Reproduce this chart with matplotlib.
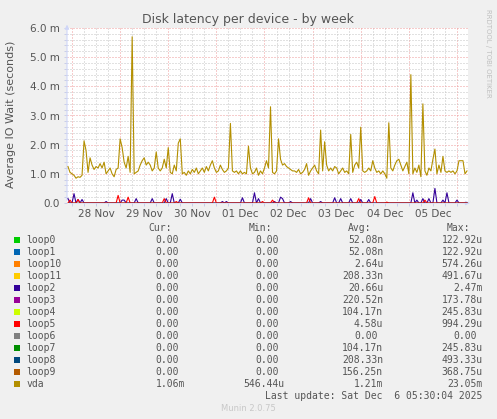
import numpy as np
import pandas as pd
import matplotlib
matplotlib.use('Agg')
import matplotlib.pyplot as plt
import matplotlib.dates as mdates
from matplotlib.ticker import FuncFormatter, MultipleLocator, NullFormatter
from matplotlib.patches import Rectangle

# devices and munin colours
names = ['loop0', 'loop1', 'loop10', 'loop11', 'loop2', 'loop3', 'loop4',
         'loop5', 'loop6', 'loop7', 'loop8', 'loop9', 'vda']
colors = ['#00CC00', '#0066B3', '#FF8000', '#FFCC00', '#330099', '#990099',
          '#CCFF00', '#FF0000', '#808080', '#008F00', '#00487D', '#B35A00', '#B38F00']

# legend table
cur_vals = ['0.00', '0.00', '0.00', '0.00', '0.00', '0.00', '0.00',
            '0.00', '0.00', '0.00', '0.00', '0.00', '1.06m']
min_vals = ['0.00', '0.00', '0.00', '0.00', '0.00', '0.00', '0.00',
            '0.00', '0.00', '0.00', '0.00', '0.00', '546.44u']
avg_vals = ['52.08n', '52.08n', '2.64u', '208.33n', '20.66u', '220.52n', '104.17n',
            '4.58u', '0.00', '104.17n', '208.33n', '156.25n', '1.21m']
max_vals = ['122.92u', '122.92u', '574.26u', '491.67u', '2.47m', '173.78u', '245.83u',
            '994.29u', '0.00', '245.83u', '493.33u', '368.75u', '23.05m']

# vda latency in ms, one value per hour
vda_ms = [
    1.25, 1.05, 1.0, 0.95, 0.85, 0.9, 0.88, 0.95, 2.13, 1.8,
    1.05, 1.55, 1.3, 1.15, 1.25, 1.2, 1.35, 1.2, 1.4, 1.0,
    1.1, 1.2, 1.0, 0.9, 1.15, 1.2, 2.2, 1.9, 1.4, 1.2,
    1.6, 1.05, 5.7, 1.0, 1.05, 1.1, 1.3, 1.45, 1.55, 1.3,
    1.4, 1.3, 1.1, 1.2, 1.75, 1.2, 1.1, 1.2, 1.5, 1.2,
    1.9, 1.05, 1.0, 1.3, 1.1, 2.05, 2.2, 1.0, 1.05, 0.95,
    1.1, 1.0, 1.15, 1.05, 1.2, 1.0, 1.1, 1.2, 1.05, 1.25,
    1.1, 1.3, 1.45, 1.2, 1.05, 1.1, 1.3, 1.15, 1.05, 1.1,
    1.2, 2.73, 1.1, 1.05, 1.1, 1.0, 1.1, 1.0, 1.05, 1.0,
    1.95, 1.2, 1.0, 1.05, 1.2, 0.95, 1.1, 1.0, 1.2, 1.45,
    1.2, 3.3, 1.05, 1.0, 1.1, 2.2, 1.5, 1.3, 1.35, 1.25,
    1.2, 1.15, 1.1, 1.1, 1.05, 1.15, 1.0, 1.05, 1.15, 1.35,
    0.95, 1.1, 1.2, 1.3, 1.1, 1.0, 2.5, 1.1, 2.1, 1.3,
    1.1, 1.2, 1.1, 1.25, 1.2, 1.0, 1.1, 1.2, 1.05, 1.1,
    1.0, 2.35, 1.05, 1.3, 1.4, 1.2, 2.6, 1.1, 1.05, 1.1,
    1.2, 1.1, 1.45, 1.2, 1.05, 1.1, 1.0, 1.1, 1.0, 0.85,
    2.75, 1.2, 1.1, 1.3, 1.45, 1.5, 1.3, 1.1, 1.25, 1.4,
    1.0, 4.4, 1.0, 1.2, 1.05, 1.3, 0.9, 3.4, 1.1, 0.95,
    1.2, 1.1, 1.5, 1.85, 1.0, 1.3, 1.05, 1.6, 1.1, 1.05,
    1.1, 1.05, 1.1, 1.0, 1.1, 1.45, 1.45, 1.45, 1.0, 1.1,
]

# loop devices are zero except short bursts (hour index, ms)
loop2_hours = [0, 3, 5, 7, 19, 27, 28, 34, 42, 49, 52, 56, 77, 79, 87, 93, 95,
               103, 106, 107, 111, 121, 126, 133, 136, 141, 146, 150, 172, 174,
               177, 180, 183, 187, 189, 194]
loop2_ms = [0.15, 0.32, 0.12, 0.12, 0.05, 0.1, 0.1, 0.15, 0.15, 0.15, 0.32, 0.13,
            0.05, 0.05, 0.18, 0.35, 0.15, 0.05, 0.2, 0.15, 0.05, 0.15, 0.05, 0.18,
            0.15, 0.15, 0.12, 0.12, 0.35, 0.1, 0.15, 0.15, 0.5, 0.1, 0.35, 0.1]
loop5_hours = [1, 5, 25, 30, 48, 54, 73, 97, 102, 120, 145, 153, 159, 178]
loop5_ms = [0.1, 0.12, 0.26, 0.2, 0.15, 0.05, 0.2, 0.05, 0.1, 0.18, 0.15, 0.22,
            0.03, 0.1]

start = pd.Timestamp('2025-11-27 21:30')
end = pd.Timestamp('2025-12-06 05:30')
times = pd.date_range('2025-11-27 22:00', periods=len(vda_ms), freq='h')

series = {n: np.zeros(len(vda_ms)) for n in names}
series['loop2'][loop2_hours] = loop2_ms
series['loop5'][loop5_hours] = loop5_ms
series['vda'] = np.array(vda_ms)

W, H = 497, 419
fig = plt.figure(figsize=(W / 100, H / 100), dpi=100, facecolor='#F0F0F0')
ax = fig.add_axes([67 / W, 1 - 203 / H, 401 / W, 175 / H])
ax.set_facecolor('white')

for n, c in zip(names, colors):
    ax.plot(times, series[n] / 1000.0, color=c, lw=0.8, zorder=3)

ax.set_xlim(start, end)
ax.set_ylim(0, 6e-3)
for s in ax.spines.values():
    s.set_visible(False)

ax.yaxis.set_major_locator(MultipleLocator(1e-3))
ax.yaxis.set_minor_locator(MultipleLocator(2e-4))
ax.yaxis.set_major_formatter(FuncFormatter(
    lambda v, p: '0.0' if abs(v) < 1e-9 else '%.1f m' % (v * 1000)))
ax.xaxis.set_major_locator(mdates.DayLocator())
ax.xaxis.set_minor_locator(mdates.HourLocator(byhour=[0, 6, 12, 18]))
ax.xaxis.set_major_formatter(NullFormatter())
ax.xaxis.set_minor_formatter(FuncFormatter(
    lambda v, p: mdates.num2date(v).strftime('%d %b') if mdates.num2date(v).hour == 12 else ''))

ax.tick_params(axis='y', which='both', length=2, width=0.7, color='#C8CCE8', pad=3,
               labelsize=7.5, labelcolor='#555555')
ax.tick_params(axis='x', which='both', length=2, width=0.7, color='#C8CCE8', pad=2,
               labelsize=7.5, labelcolor='#555555')

ax.grid(which='minor', color='#C4C4C4', linestyle=(0, (1, 2)), lw=0.72)
ax.grid(which='major', color='#EE9A9A', linestyle=(0, (1, 2)), lw=0.72)
ax.set_axisbelow(True)

# axis arrows
ax.annotate('', xy=(0, 1.035), xytext=(0, 0), xycoords='axes fraction',
            arrowprops=dict(arrowstyle='-|>', color='#CFD6F8', lw=0.8, mutation_scale=6),
            annotation_clip=False, zorder=2)
ax.annotate('', xy=(1.012, 0), xytext=(0, 0), xycoords='axes fraction',
            arrowprops=dict(arrowstyle='-|>', color='#CFD6F8', lw=0.8, mutation_scale=6),
            annotation_clip=False, zorder=2)


def px(x, y):
    return x / W, 1 - y / H


fig.text(*px(248, 19), 'Disk latency per device - by week', ha='center', va='center',
         fontsize=9, color='#555555')
fig.text(*px(11, 114), 'Average IO Wait (seconds)', ha='center', va='center',
         rotation=90, fontsize=8, color='#555555')
fig.text(*px(488, 53), 'RRDTOOL / TOBI OETIKER', ha='center', va='center',
         rotation=270, fontsize=5, color='#C0C0C0')

mono = dict(family='DejaVu Sans Mono', fontsize=7, color='#555555', va='center')
cw = 5.85
col_end = [185, 284.3, 383.3, 482.7]
heads = ['Cur:', 'Min:', 'Avg:', 'Max:']
head_end = [172.3, 271.7, 371, 470]
for h, xe in zip(heads, head_end):
    fig.text(*px(xe, 227.5), h, ha='right', **mono)

for i, n in enumerate(names):
    y = 240 + 12 * i
    fig.patches.append(Rectangle(px(14, y + 3), 6 / W, 6 / H, transform=fig.transFigure,
                                 facecolor=colors[i], edgecolor='none'))
    fig.text(*px(26.7, y), n, ha='left', **mono)
    for vals, xe in zip([cur_vals, min_vals, avg_vals, max_vals], col_end):
        v = vals[i]
        xx = xe if v[-1].isalpha() else xe - cw
        fig.text(*px(xx, y), v, ha='right', **mono)

fig.text(*px(482.7, 396), 'Last update: Sat Dec  6 05:30:04 2025', ha='right', **mono)
fig.text(*px(248, 408.5), 'Munin 2.0.75', ha='center', va='center',
         fontsize=6, color='#C8C8C8')

fig.savefig('out.png', dpi=100, facecolor=fig.get_facecolor())
